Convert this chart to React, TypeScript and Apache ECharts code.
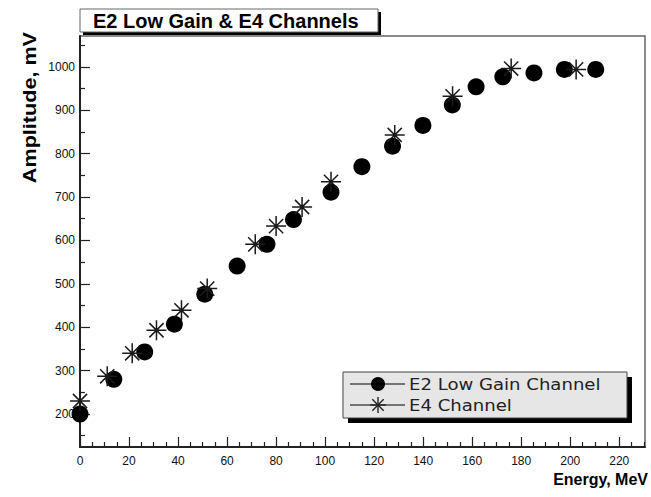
import React, { useEffect, useRef } from "react";
import * as echarts from "echarts";

// E2 Low Gain Channel (filled circles)
const e2Energy = [0, 13.8, 26.4, 38.5, 50.9, 64.1, 76.3, 87.1, 102.4, 115.0, 127.5, 139.9, 151.9, 161.6, 172.5, 185.2, 197.6, 210.4];
const e2Amplitude = [200, 280, 343, 407, 476, 541, 591, 648, 711, 770, 817, 865, 912, 954, 977, 986, 994, 994];

// E4 Channel (asterisks)
const e4Energy = [0, 11.1, 21.3, 31.2, 41.4, 51.9, 71.5, 80.0, 90.6, 102.4, 128.4, 152.0, 175.9, 202.4];
const e4Amplitude = [230, 287, 340, 393, 439, 489, 591, 633, 677, 735, 843, 932, 996, 994];

// Axes
const xMin = 0;
const xMax = 230.5;
const yMin = 124;
const yMax = 1071;
const xTickLabels = [0, 20, 40, 60, 80, 100, 120, 140, 160, 180, 200, 220];
const xMinorTicks = [5, 10, 15, 25, 30, 35, 45, 50, 55, 65, 70, 75, 85, 90, 95, 105, 110, 115, 125, 130, 135, 145, 150, 155, 165, 170, 175, 185, 190, 195, 205, 210, 215, 225, 230];
const yTickLabels = [200, 300, 400, 500, 600, 700, 800, 900, 1000];
const yMinorTicks = [150, 250, 350, 450, 550, 650, 750, 850, 950, 1050];

const titleText = "E2 Low Gain & E4 Channels";
const xTitle = "Energy, MeV";
const yTitle = "Amplitude, mV";
const seriesNames = ["E2 Low Gain Channel", "E4 Channel"];

const STAR = "path://M10 0L10 20M0 10L20 10M2.9 2.9L17.1 17.1M2.9 17.1L17.1 2.9";
const FONT = "'Liberation Sans', Arial, Helvetica, sans-serif";

export default function App() {
  const ref = useRef<HTMLDivElement>(null);
  useEffect(() => {
    if (!ref.current) return;
    const chart = echarts.init(ref.current, null, { renderer: "svg" });
    const axisColor = "#222";
    const labelStyle = { fontSize: 12, color: "#111", fontFamily: FONT, formatter: (v: number) => String(v) };
    const option: any = {
      animation: false,
      backgroundColor: "#ffffff",
      grid: {
        left: 80,
        right: 6,
        top: 36,
        bottom: 50,
        show: true,
        borderColor: "#666",
        borderWidth: 1.5,
        backgroundColor: "transparent",
      },
      xAxis: [
        {
          type: "value",
          min: xMin,
          max: xMax,
          position: "bottom",
          axisLine: { show: true, onZero: false, lineStyle: { color: axisColor, width: 2 } },
          axisTick: { show: true, inside: true, length: 10, customValues: xTickLabels, lineStyle: { color: axisColor, width: 1.2 } },
          axisLabel: { show: true, customValues: xTickLabels, margin: 8, ...labelStyle },
          splitLine: { show: false },
        },
        {
          type: "value",
          min: xMin,
          max: xMax,
          position: "bottom",
          axisLine: { show: false, onZero: false },
          axisTick: { show: true, inside: true, length: 5, customValues: xMinorTicks, lineStyle: { color: axisColor, width: 1.2 } },
          axisLabel: { show: false },
          splitLine: { show: false },
        },
      ],
      yAxis: [
        {
          type: "value",
          min: yMin,
          max: yMax,
          position: "left",
          axisLine: { show: true, onZero: false, lineStyle: { color: axisColor, width: 2 } },
          axisTick: { show: true, inside: true, length: 10, customValues: yTickLabels, lineStyle: { color: axisColor, width: 1.2 } },
          axisLabel: { show: true, customValues: yTickLabels, margin: 5, ...labelStyle },
          splitLine: { show: false },
        },
        {
          type: "value",
          min: yMin,
          max: yMax,
          position: "left",
          axisLine: { show: false, onZero: false },
          axisTick: { show: true, inside: true, length: 5, customValues: yMinorTicks, lineStyle: { color: axisColor, width: 1.2 } },
          axisLabel: { show: false },
          splitLine: { show: false },
        },
      ],
      series: [
        {
          name: seriesNames[0],
          type: "scatter",
          xAxisIndex: 0,
          yAxisIndex: 0,
          clip: false,
          symbol: "circle",
          symbolSize: 17,
          itemStyle: { color: "#000", opacity: 1 },
          data: e2Energy.map((e, i) => [e, e2Amplitude[i]]),
          z: 3,
        },
        {
          name: seriesNames[1],
          type: "scatter",
          xAxisIndex: 0,
          yAxisIndex: 0,
          clip: false,
          symbol: STAR,
          symbolSize: 20,
          itemStyle: { color: "none", borderColor: "#1a1a1a", borderWidth: 1.5, opacity: 1 },
          data: e4Energy.map((e, i) => [e, e4Amplitude[i]]),
          z: 4,
        },
      ],
      graphic: [
        // title box
        { type: "rect", shape: { x: 83, y: 12, width: 298, height: 23 }, style: { fill: "#000" }, z: 10 },
        { type: "rect", shape: { x: 80, y: 9, width: 298, height: 23 }, style: { fill: "#fff", stroke: "#666", lineWidth: 1 }, z: 11 },
        {
          type: "text",
          x: 93,
          y: 21,
          z: 12,
          style: { text: titleText, fontSize: 20, fontWeight: "bold", fontFamily: FONT, fill: "#000", align: "left", verticalAlign: "middle" },
        },
        // axis titles
        {
          type: "text",
          x: 30,
          y: 32,
          rotation: Math.PI / 2,
          scaleX: 1.2,
          z: 12,
          style: { text: yTitle, fontSize: 18, fontWeight: "bold", fontFamily: FONT, fill: "#000", align: "right", verticalAlign: "middle" },
        },
        {
          type: "text",
          x: 648,
          y: 479,
          z: 12,
          style: { text: xTitle, fontSize: 16, fontWeight: "bold", fontFamily: FONT, fill: "#000", align: "right", verticalAlign: "middle" },
        },
        // legend
        { type: "rect", shape: { x: 348, y: 377, width: 284, height: 46 }, style: { fill: "#000" }, z: 10 },
        { type: "rect", shape: { x: 343, y: 372, width: 284, height: 46 }, style: { fill: "#e6e6e6", stroke: "#444", lineWidth: 1 }, z: 11 },
        { type: "line", shape: { x1: 350, y1: 384, x2: 405, y2: 384 }, style: { stroke: "#000", lineWidth: 1.2 }, z: 12 },
        { type: "circle", shape: { cx: 378, cy: 384, r: 7 }, style: { fill: "#000" }, z: 13 },
        {
          type: "text",
          x: 409,
          y: 384,
          scaleX: 1.13,
          z: 12,
          style: { text: seriesNames[0], fontSize: 16, fontFamily: "'DejaVu Sans', sans-serif", fill: "#222", align: "left", verticalAlign: "middle" },
        },
        { type: "line", shape: { x1: 350, y1: 405, x2: 405, y2: 405 }, style: { stroke: "#000", lineWidth: 1.2 }, z: 12 },
        { type: "line", shape: { x1: 378, y1: 397, x2: 378, y2: 413 }, style: { stroke: "#222", lineWidth: 1.4 }, z: 13 },
        { type: "line", shape: { x1: 370, y1: 405, x2: 386, y2: 405 }, style: { stroke: "#222", lineWidth: 1.4 }, z: 13 },
        { type: "line", shape: { x1: 372.3, y1: 399.3, x2: 383.7, y2: 410.7 }, style: { stroke: "#222", lineWidth: 1.4 }, z: 13 },
        { type: "line", shape: { x1: 372.3, y1: 410.7, x2: 383.7, y2: 399.3 }, style: { stroke: "#222", lineWidth: 1.4 }, z: 13 },
        {
          type: "text",
          x: 409,
          y: 405,
          scaleX: 1.13,
          z: 12,
          style: { text: seriesNames[1], fontSize: 16, fontFamily: "'DejaVu Sans', sans-serif", fill: "#222", align: "left", verticalAlign: "middle" },
        },
      ],
    };
    chart.setOption(option);
    return () => chart.dispose();
  }, []);
  return <div ref={ref} style={{ position: "absolute", left: 0, top: 0, width: 651, height: 497 }} />;
}
